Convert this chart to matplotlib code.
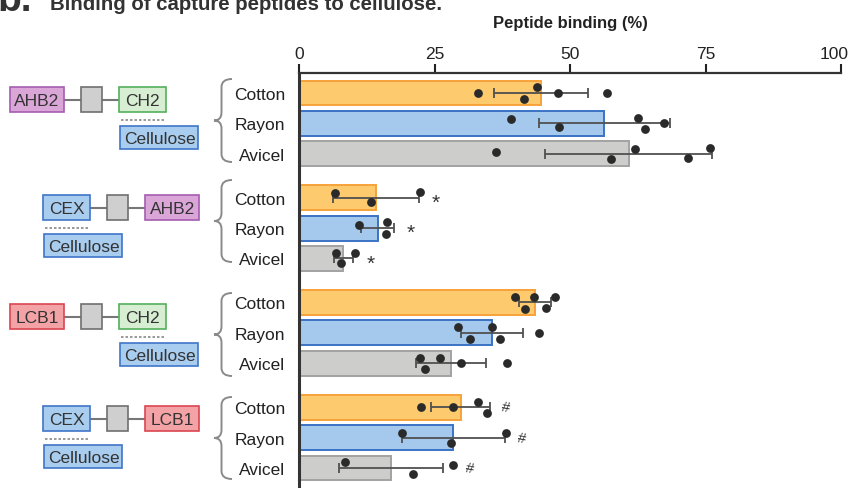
import matplotlib.pyplot as plt
import numpy as np
from matplotlib.patches import Rectangle, PathPatch
from matplotlib.path import Path
from matplotlib.transforms import offset_copy

plt.rcParams['font.family'] = ['Liberation Sans', 'DejaVu Sans']

# data
materials = ['Cotton', 'Rayon', 'Avicel']
constructs = [('AHB2', 'CH2'), ('CEX', 'AHB2'), ('LCB1', 'CH2'), ('CEX', 'LCB1')]
cellulose_binder = ['CH2', 'CEX', 'CH2', 'CEX']

binding_mean = [
    [44.7, 56.3, 60.8],
    [14.2, 14.5, 8.2],
    [43.5, 35.6, 28.0],
    [29.8, 28.5, 16.9],
]
binding_sd = [
    [8.7, 12.1, 15.4],
    [7.9, 3.1, 1.75],
    [3.0, 5.8, 6.5],
    [5.4, 9.5, 9.6],
]
replicates = [
    [[33.1, 43.9, 47.8, 41.5, 56.9],
     [39.2, 47.9, 62.6, 63.9, 67.4],
     [36.4, 57.6, 62.0, 71.8, 75.8]],
    [[6.6, 22.3, 13.3],
     [11.0, 16.3, 16.1],
     [6.9, 10.3, 7.7]],
    [[39.9, 43.4, 47.2, 41.7, 45.6],
     [29.3, 35.7, 31.5, 37.1, 44.3],
     [22.4, 26.0, 23.2, 29.8, 38.4]],
    [[22.5, 28.4, 33.1, 34.6],
     [19.0, 38.1, 28.1],
     [8.4, 28.5, 21.0]],
]
# vertical scatter of the replicate dots (pixels)
replicate_dy = [
    [[0, -5.7, 0, 6, 0],
     [-4.3, 3.7, -5.7, 5.7, 0],
     [-2, 5, -5, 4.5, -5.5]],
    [[-5, -6, 4.5],
     [-3, -6, 6],
     [-5.7, -5.7, 5]],
    [[-5.7, -5.7, -5.7, 7, 6],
     [-5.8, -5.8, 6, 6, 0],
     [-5.7, -5.7, 6, 0, 0]],
    [[0, 0, -5.7, 6],
     [-5, -5, 5],
     [-5.7, -3, 5.7]],
]
signif = ['', '*', '', '#']

bar_fill = ['#FDCB6D', '#A4C9EC', '#CDCDCC']
bar_edge = ['#F7A23A', '#3C72C5', '#A2A2A2']
domain_fill = {'AHB2': '#DAA6D8', 'CH2': '#D8EED3', 'CEX': '#A9CDEF',
               'LCB1': '#F3A2A6', 'linker': '#CFCFCF', 'Cellulose': '#A9CDEF'}
domain_edge = {'AHB2': '#A45DAF', 'CH2': '#53B05B', 'CEX': '#3F76C8',
               'LCB1': '#DA4652', 'linker': '#6F6F6F', 'Cellulose': '#3F76C8'}
domain_w = {'AHB2': 54, 'LCB1': 54, 'CH2': 47.5, 'CEX': 47.5}

W, H = 849, 489
px_per_row = 30.36
group_step = 3.45

fig = plt.figure(figsize=(W / 100, H / 100), dpi=100)

# background axes in pixel coordinates for the diagrams and titles
bg = fig.add_axes([0, 0, 1, 1])
bg.set_xlim(0, W)
bg.set_ylim(H, 0)
bg.axis('off')

ax = fig.add_axes([299 / W, 0, (841 - 299) / W, (H - 74) / H])
ax.patch.set_alpha(0)

ypos = []
for g in range(4):
    for r in range(3):
        y = g * group_step + r
        ypos.append(y)
        m = binding_mean[g][r]
        sd = binding_sd[g][r]
        ax.barh(y, m, height=0.82, color=bar_fill[r], edgecolor=bar_edge[r],
                linewidth=1.4, zorder=2)
        ax.errorbar(m, y, xerr=sd, fmt='none', ecolor='#505050',
                    elinewidth=1.3, capsize=3.6, capthick=1.3, zorder=3)
        vals = replicates[g][r]
        dy = np.array(replicate_dy[g][r]) / px_per_row
        ax.scatter(vals, y + dy, s=40, color='#2a2a2a', linewidths=0, zorder=4)
        if signif[g]:
            xm = max(max(vals), m + sd) + 3
            if signif[g] == '*':
                ax.text(xm, y + 0.15, '*', fontsize=15, ha='center',
                        va='center', color='#333333')
            else:
                ax.text(xm, y, '#', fontsize=10.5, ha='center', va='center',
                        color='#333333', rotation=-10)

ax.set_xlim(0, 100)
ax.set_ylim(13.01, -0.659)
ax.xaxis.tick_top()
ax.xaxis.set_label_position('top')
ax.set_xticks([0, 25, 50, 75, 100])
ax.tick_params(axis='x', direction='out', length=6.5, width=1.5,
               labelsize=12.5, pad=2, colors='#222222')
ax.set_xlabel('Peptide binding (%)', fontsize=12, fontweight='bold',
              labelpad=14, color='#222222')
ax.set_yticks(ypos)
ax.set_yticklabels(materials * 4)
ax.tick_params(axis='y', length=0, pad=10, labelsize=12.5, colors='#222222')
for s in ['right', 'bottom']:
    ax.spines[s].set_visible(False)
ax.spines['top'].set_linewidth(1.6)
ax.spines['left'].set_linewidth(2.2)
ax.spines['top'].set_color('#333333')
ax.spines['left'].set_color('#333333')
ax.spines['left'].set_zorder(5)

# keep the "100" label inside the picture
last = ax.get_xticklabels()[-1]
last.set_transform(offset_copy(last.get_transform(), fig=fig, x=-7, y=0,
                               units='dots'))

# titles
bg.text(-3, 11, 'b.', fontsize=28, fontweight='bold', color='#333333',
        va='baseline')
bg.text(50, 9.5, 'Binding of capture peptides to cellulose.', fontsize=14.7,
        fontweight='bold', color='#333333', va='baseline')


def box(x, y, w, h, name, label):
    bg.add_patch(Rectangle((x, y), w, h, facecolor=domain_fill[name],
                           edgecolor=domain_edge[name], linewidth=1.2))
    if label:
        bg.text(x + w / 2, y + h / 2 + 1, label, fontsize=12.5, ha='center',
                va='center', color='#333333')


def brace(x_tip, x_right, y_top, y_bot):
    xv = x_tip + 7.5
    ym = (y_top + y_bot) / 2
    r = 8
    verts = [(x_right, y_top), (xv, y_top), (xv, y_top + r),
             (xv, ym - r), (xv, ym), (x_tip, ym),
             (xv, ym), (xv, ym + r),
             (xv, y_bot - r), (xv, y_bot), (x_right, y_bot)]
    codes = [Path.MOVETO, Path.CURVE3, Path.CURVE3,
             Path.LINETO, Path.CURVE3, Path.CURVE3,
             Path.CURVE3, Path.CURVE3,
             Path.LINETO, Path.CURVE3, Path.CURVE3]
    bg.add_patch(PathPatch(Path(verts, codes), facecolor='none',
                           edgecolor='#8A8A8A', linewidth=1.4))


diagram_top = [88, 196, 305, 407]
diagram_left = [10, 43, 10, 43]
brace_span = [(80, 163), (181, 263), (294, 377), (398, 480)]
dom_h = 25

for g, (left_dom, right_dom) in enumerate(constructs):
    x = diagram_left[g]
    y = diagram_top[g]
    yc = y + dom_h / 2
    wl = domain_w[left_dom]
    wr = domain_w[right_dom]
    x_link = x + wl + 17
    x_right = x_link + 21 + 17
    bg.plot([x + wl, x_right], [yc, yc], color='#777777', lw=1.5, zorder=1)
    box(x, y, wl, dom_h, left_dom, left_dom)
    box(x_link, y, 21, dom_h, 'linker', '')
    box(x_right, y, wr, dom_h, right_dom, right_dom)
    xb = x if cellulose_binder[g] == left_dom else x_right
    bg.plot([xb + 2, xb + 45], [y + dom_h + 7.5] * 2, color='#888888',
            lw=1.2, linestyle=(0, (1.5, 1.2)))
    box(xb + 1.5, y + dom_h + 14, 78, 22.5, 'Cellulose', 'Cellulose')
    brace(214, 232, *brace_span[g])

fig.savefig('out.png', dpi=100)
